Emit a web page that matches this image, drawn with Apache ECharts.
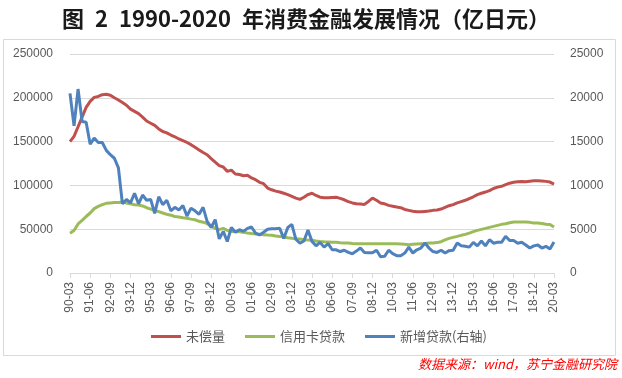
<!DOCTYPE html>
<html><head><meta charset="utf-8">
<script src="https://cdn.jsdelivr.net/npm/echarts@6/dist/echarts.min.js"></script>
<style>html,body{margin:0;padding:0;background:#fff}#c{width:622px;height:378px}</style>
</head><body><div id="c"></div>
<script>
// quarterly categories 1990-03 .. 2020-03
const startYear = 1990, endYear = 2020;
const categories = [];
for (let y = startYear; y <= endYear; y++) {
  for (const m of ['03','06','09','12']) {
    if (y === endYear && m !== '03') break;
    categories.push(String(y).slice(2) + '-' + m);
  }
}
const seriesNames = ['未偿量', '信用卡贷款', '新增贷款(右轴)'];
const outstanding = [150000,156000,167000,178000,189000,196000,200500,201500,203500,204000,
203000,200000,197500,194500,191500,187000,184500,182000,178000,173500,
171000,168500,164500,161500,160000,157500,155500,153000,151000,149000,
146500,143500,140500,137500,135000,130500,126500,122500,121000,116000,
117500,113000,112500,111000,111500,108500,106500,103500,102000,97000,
95000,93500,92500,91000,89500,87500,85500,84000,86500,89500,
91000,88500,86500,86000,86000,86300,86500,85200,83600,81500,
80000,79000,78700,78300,81700,85500,83000,80000,79000,77200,
76300,75300,74500,72500,71500,70500,69800,69800,70300,70700,
71500,72000,73000,75000,76800,78000,80000,81500,83000,85000,
87000,89500,91000,92400,94000,96500,98000,99000,100800,102500,
103500,104200,104500,104200,104800,105200,105200,105000,104600,103800,101500];
const creditCard = [45500,48500,56000,60000,64500,68500,73500,76000,78000,79500,
80000,80500,80500,81000,80000,79000,78000,77500,76500,74500,
73000,71500,70000,68500,67000,66000,64500,64000,63000,62500,
61500,60800,59000,58000,56300,53500,51000,49500,51000,48700,
47500,47300,47000,46400,45600,45000,44500,44100,43700,43300,
43000,42200,41800,41100,40300,39600,39000,38800,38000,37600,
37300,36600,36100,35700,35400,35000,35000,34600,34300,34200,
33800,33500,33500,33400,33400,33400,33400,33400,33400,33400,
33400,33300,33100,32700,32300,32700,33100,33500,33800,34200,
34300,34700,35700,37800,39500,40700,41800,43000,44100,45600,
47300,48700,49800,50900,52100,53200,54400,55500,56300,57400,
58200,58300,58300,58200,57800,57100,57000,56600,55700,55500,52500];
const newLoans = [20500,16800,21000,17300,17200,14700,15400,14900,14900,14000,
13500,13100,12000,7900,8400,8000,9100,7900,8900,8300,
8400,6800,8700,7800,8300,7100,7500,7200,7700,6500,
7400,7100,6700,7500,5900,5200,6100,3900,4750,3600,
5200,4650,4950,4750,5100,5250,4550,4350,4650,5000,
5050,5050,5100,3950,5200,5550,3850,3400,3650,4900,
3600,3100,3500,2950,3350,2650,2650,2450,2600,2350,
2200,2500,2850,2350,2300,2300,2600,1850,1900,2600,
2200,1980,1980,2280,2950,2280,2650,2850,3420,2850,
2450,2350,2600,2280,2550,2600,3420,3100,3050,2950,
3500,3100,3650,3100,3800,3400,3500,3500,4200,3700,
3700,3400,3500,3200,2850,3100,3200,2850,3050,2750,3550];
const colors = ['#C0504D', '#9BBB59', '#4F81BD'];

const chart = echarts.init(document.getElementById('c'), null, {renderer: 'canvas'});
const labelColor = '#595959';
const mk = (name, data, color, yIdx) => ({
  name, type: 'line', data, yAxisIndex: yIdx, showSymbol: false, symbol: 'none',
  lineStyle: {color, width: 3}, itemStyle: {color}, animation: false
});
chart.setOption({
  animation: false,
  title: {
    text: '图\u20022\u20021990-2020\u2002年消费金融发展情况（亿日元）',
    left: 57, top: 3,
    textStyle: {fontFamily: 'Noto Sans CJK SC', fontWeight: 'bold', fontSize: 22, color: '#1a1a1a'}
  },
  graphic: [
    {type: 'rect', shape: {x: 3.5, y: 39.5, width: 612, height: 316}, style: {fill: 'none', stroke: '#D9D9D9', lineWidth: 1}, silent: true},
    {type: 'text', right: 5, top: 358, style: {text: '数据来源：wind，苏宁金融研究院', fill: '#FF0000', font: 'italic 13px "Noto Sans CJK SC"'}}
  ],
  legend: {
    data: seriesNames, left: 146, top: 325, icon: 'rect', itemWidth: 30, itemHeight: 3, itemGap: 20,
    textStyle: {color: labelColor, fontSize: 13, fontFamily: 'Noto Sans CJK SC'}
  },
  grid: {left: 70, right: 68, top: 54, bottom: 105},
  xAxis: {
    type: 'category', data: categories, boundaryGap: false,
    axisLine: {lineStyle: {color: '#D9D9D9'}},
    axisTick: {show: true, interval: 4, length: 5, lineStyle: {color: '#D9D9D9'}},
    axisLabel: {interval: 4, rotate: 90, color: labelColor, fontSize: 12, margin: 9, fontFamily: 'Liberation Sans'}
  },
  yAxis: [
    {type: 'value', min: 0, max: 250000, interval: 50000,
     axisLine: {show: false}, axisTick: {show: false},
     splitLine: {lineStyle: {color: '#D9D9D9'}},
     axisLabel: {color: labelColor, fontSize: 12, margin: 17, fontFamily: 'Liberation Sans', formatter: v => String(v)}},
    {type: 'value', min: 0, max: 25000, interval: 5000,
     axisLine: {show: false}, axisTick: {show: false}, splitLine: {show: false},
     axisLabel: {color: labelColor, fontSize: 12, margin: 16, fontFamily: 'Liberation Sans', formatter: v => String(v)}}
  ],
  series: [
    mk(seriesNames[0], outstanding, colors[0], 0),
    mk(seriesNames[1], creditCard, colors[1], 0),
    mk(seriesNames[2], newLoans, colors[2], 1)
  ]
});
</script></body></html>
